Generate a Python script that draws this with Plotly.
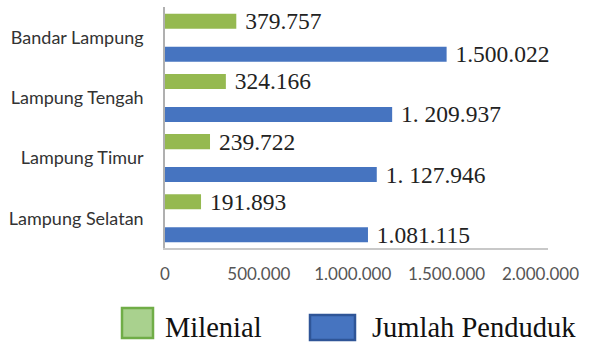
import plotly.graph_objects as go

categories = ["Lampung Selatan", "Lampung Timur", "Lampung Tengah", "Bandar Lampung"]
milenial = [191893, 239722, 324166, 379757]
milenial_labels = ["191.893", "239.722", "324.166", "379.757"]
jumlah = [1081115, 1127946, 1209937, 1500022]
jumlah_labels = ["1.081.115", "1. 127.946", "1. 209.937", "1.500.022"]
series_names = ["Milenial", "Jumlah Penduduk"]
x_tickvals = [0, 500000, 1000000, 1500000, 2000000]
x_ticktext = ["0", "500.000", "1.000.000", "1.500.000", "2.000.000"]

GREEN = "#95b950"
BLUE = "#4674c0"
serif = "Liberation Serif"
sans = "Lato"

fig = go.Figure()
fig.add_trace(go.Bar(
    y=categories, x=jumlah, orientation="h", name=series_names[1],
    marker=dict(color=BLUE, line=dict(width=0)),
    width=0.25, offset=-0.399,
    text=jumlah_labels, texttemplate="\u00a0%{text}", textposition="outside",
    textfont=dict(family=serif, size=23.5, color="#222222"),
    constraintext="none", cliponaxis=False, showlegend=False,
))
fig.add_trace(go.Bar(
    y=categories, x=milenial, orientation="h", name=series_names[0],
    marker=dict(color=GREEN, line=dict(width=0)),
    width=0.25, offset=0.149,
    text=milenial_labels, texttemplate="\u00a0%{text}", textposition="outside",
    textfont=dict(family=serif, size=23.5, color="#222222"),
    constraintext="none", cliponaxis=False, showlegend=False,
))

fig.update_layout(
    width=591, height=342,
    margin=dict(l=165, r=43, t=7, b=94),
    paper_bgcolor="white", plot_bgcolor="white",
    barmode="overlay",
    xaxis=dict(
        range=[0, 2.04e6], tickvals=x_tickvals, ticktext=x_ticktext,
        showgrid=False, zeroline=False, showline=True, linecolor="#c8c8c8", linewidth=1.5,
        tickfont=dict(family=sans, size=17, color="#555555"), ticklabelstandoff=10,
    ),
    yaxis=dict(
        type="category", categoryorder="array", categoryarray=categories,
        range=[-0.494, 3.511],
        showgrid=False, zeroline=False, showline=True, linecolor="#b0b0b0", linewidth=1.5,
        tickfont=dict(family=sans, size=18, color="#333333"), ticklabelstandoff=16,
    ),
    showlegend=False,
)

# custom legend (large swatches like the original)
legend_items = [
    (series_names[0], "#a9d18e", "#70ad47", 122, 153, 308, 338, 163),
    (series_names[1], BLUE, "#2f5597", 310, 355, 315, 340, 370),
]
for name, fill, border, x0, x1, y0, y1, tx in legend_items:
    fig.add_shape(type="rect", xref="paper", yref="paper",
                  x0=(x0 - 165) / 383, x1=(x1 - 165) / 383,
                  y0=(248 - y1) / 241, y1=(248 - y0) / 241,
                  fillcolor=fill, line=dict(color=border, width=2.5))
    fig.add_annotation(text=name, xref="paper", yref="paper",
                       x=(tx - 165) / 383, y=(248 - 327) / 241,
                       xanchor="left", yanchor="middle", showarrow=False,
                       font=dict(family=serif, size=28.5, color="#111111"))

fig.write_html("out.html")
